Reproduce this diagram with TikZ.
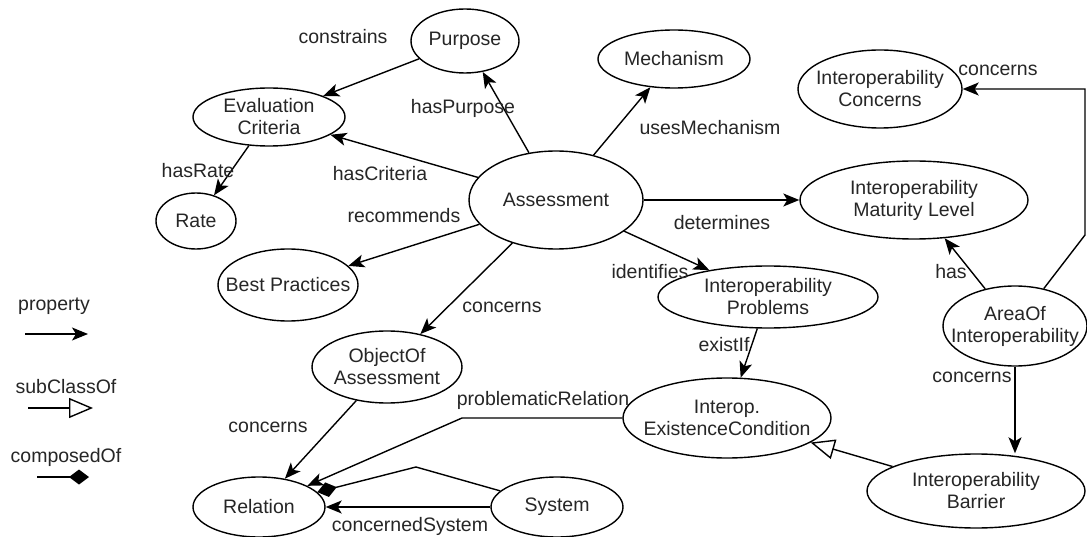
\documentclass[tikz,border=0pt]{standalone}
\usepackage{fontspec}
\setmainfont{Liberation Sans}
\usetikzlibrary{shapes.geometric,arrows.meta}
\begin{document}
\begin{tikzpicture}[x=1pt,y=-1pt,
  cls/.style={draw, ellipse, line width=1.4pt, inner sep=0pt},
  lbl/.style={font=\fontsize{19.5}{22}\selectfont, text=black!85, inner sep=0pt, align=center},
  prop/.style={line width=1.4pt, -{Stealth[length=16pt,width=13pt,inset=4pt]}},
  sub/.style={line width=1.4pt, -{Triangle[open,length=24pt,width=20pt,line width=1.4pt]}},
  comp/.style={line width=1.4pt, -{Diamond[length=20pt,width=15pt]}}]
\useasboundingbox (0,0) rectangle (1087,537);
\fill[white] (0,0) rectangle (1087,537);
% classes
\node[cls, minimum width=108pt, minimum height=64pt, label={[lbl]center:Purpose}] (purpose) at (465,41) {};
\node[cls, minimum width=152pt, minimum height=58pt, label={[lbl]center:Mechanism}] (mech) at (674,59) {};
\node[cls, minimum width=152pt, minimum height=58pt, label={[lbl]center:Evaluation\\Criteria}] (evalc) at (269,117) {};
\node[cls, minimum width=80pt, minimum height=56pt, label={[lbl]center:Rate}] (rate) at (196,221) {};
\node[cls, minimum width=174pt, minimum height=98pt, label={[lbl]center:Assessment}] (assess) at (556,200) {};
\node[cls, minimum width=164pt, minimum height=78pt, label={[lbl]center:Interoperability\\Concerns}] (iconc) at (880,89) {};
\node[cls, minimum width=228pt, minimum height=78pt, label={[lbl]center:Interoperability\\Maturity Level}] (imat) at (914,200) {};
\node[cls, minimum width=140pt, minimum height=72pt, label={[lbl]center:Best Practices}] (bestp) at (288,285) {};
\node[cls, minimum width=220pt, minimum height=62pt, label={[lbl]center:Interoperability\\Problems}] (iprob) at (768,297) {};
\node[cls, minimum width=144pt, minimum height=80pt, label={[lbl]center:AreaOf\\Interoperability}] (area) at (1015,326) {};
\node[cls, minimum width=150pt, minimum height=72pt, label={[lbl]center:ObjectOf\\Assessment}] (objas) at (387,367) {};
\node[cls, minimum width=208pt, minimum height=80pt, label={[lbl]center:Interop.\\ExistenceCondition}] (iexist) at (727,418) {};
\node[cls, minimum width=132pt, minimum height=60pt, label={[lbl]center:Relation}] (relation) at (259,507) {};
\node[cls, minimum width=132pt, minimum height=60pt, label={[lbl]center:System}] (system) at (557,507) {};
\node[cls, minimum width=218pt, minimum height=74pt, label={[lbl]center:Interoperability\\Barrier}] (ibar) at (976,491) {};
% bend points
\coordinate (pr1) at (462,418);
\coordinate (cs1) at (416,467);
\coordinate (ac1) at (1085,235);
\coordinate (ac2) at (1085,89);
% connectors
\draw[prop] (purpose) -- (evalc);
\draw[prop] (assess) -- (purpose);
\draw[prop] (assess) -- (mech);
\draw[prop] (assess) -- (evalc);
\draw[prop] (evalc) -- (rate);
\draw[prop] (assess) -- (bestp);
\draw[prop] (assess) -- (imat);
\draw[prop] (assess) -- (iprob);
\draw[prop] (assess) -- (objas);
\draw[prop] (objas) -- (relation);
\draw[prop] (iprob) -- (iexist);
\draw[prop] (iexist.west) -- (pr1) -- (relation);
\draw[comp] (system) -- (cs1) -- (relation);
\draw[prop] (system) -- (relation);
\draw[prop] (area) -- (imat);
\draw[prop] (area) -- (ac1) -- (ac2) -- (iconc.east);
\draw[prop] (area.south) -- (area.south |- ibar.north);
\draw[sub] (ibar) -- (iexist);
% connector labels
\node[lbl] (l1) at (343,37) {constrains};
\node[lbl] (l2) at (463,108) {hasPurpose};
\node[lbl] (l3) at (710,128) {usesMechanism};
\node[lbl] (l4) at (380,174) {hasCriteria};
\node[lbl] (l5) at (198,171) {hasRate};
\node[lbl] (l6) at (404,216) {recommends};
\node[lbl] (l7) at (722,223) {determines};
\node[lbl] (l8) at (650,272) {identifies};
\node[lbl] (l9) at (502,307) {concerns};
\node[lbl] (l10) at (724,345) {existIf};
\node[lbl] (l11) at (543,400) {problematicRelation};
\node[lbl] (l12) at (268,427) {concerns};
\node[lbl] (l13) at (410,526) {concernedSystem};
\node[lbl] (l14) at (951,272) {has};
\node[lbl] (l15) at (998,70) {concerns};
\node[lbl] (l16) at (972,377) {concerns};
% legend
\node[lbl] (lg1) at (54,306) {property};
\node[lbl] (lg2) at (66,387) {subClassOf};
\node[lbl] (lg3) at (66,457) {composedOf};
\coordinate (lg1a) at (25,334); \coordinate (lg1b) at (88,334);
\coordinate (lg2a) at (28,408); \coordinate (lg2b) at (93,408);
\coordinate (lg3a) at (37,477); \coordinate (lg3b) at (89,477);
\draw[prop] (lg1a) -- (lg1b);
\draw[sub] (lg2a) -- (lg2b);
\draw[comp] (lg3a) -- (lg3b);
\end{tikzpicture}
\end{document}
